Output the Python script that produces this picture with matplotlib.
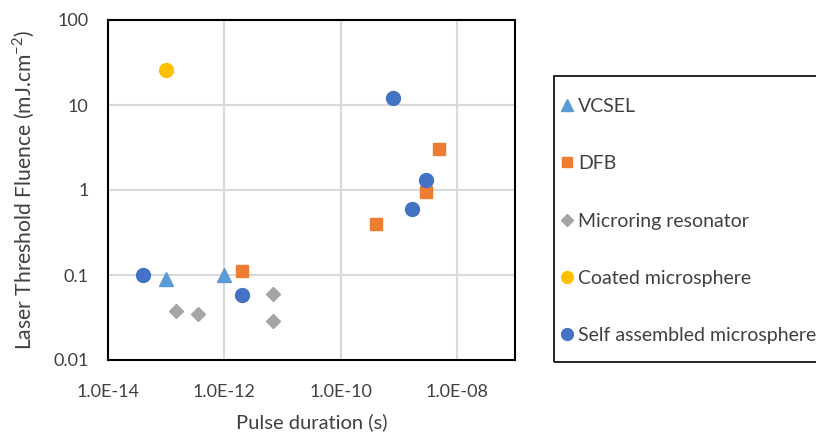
import numpy as np
import matplotlib.pyplot as plt
from matplotlib.patches import Rectangle

# pulse duration (s) and threshold fluence (mJ/cm^2) per cavity type
vcsel_t = [1e-13, 1e-12]
vcsel_f = [0.09, 0.1]

dfb_t = [2e-12, 4e-10, 3e-9, 5e-9]
dfb_f = [0.11, 0.4, 0.95, 3.0]

ring_t = [1.5e-13, 3.5e-13, 7e-12, 7e-12]
ring_f = [0.038, 0.035, 0.06, 0.029]

coated_t = [1e-13]
coated_f = [26]

self_t = [4e-14, 2e-12, 8e-10, 1.7e-9, 3e-9]
self_f = [0.1, 0.058, 12, 0.6, 1.3]

x_ticks = [1e-14, 1e-12, 1e-10, 1e-8]
x_labels = ["1.0E-14", "1.0E-12", "1.0E-10", "1.0E-08"]
y_ticks = [0.01, 0.1, 1, 10, 100]
y_labels = ["0.01", "0.1", "1", "10", "100"]

plt.rcParams['font.family'] = ['Lato', 'DejaVu Sans']
txt = '#404040'
W, H = 816, 437

fig = plt.figure(figsize=(W / 100, H / 100), dpi=100)
ax = fig.add_axes([108 / W, 1 - 360 / H, 407 / W, 340 / H])

ax.plot(vcsel_t, vcsel_f, '^', color='#5B9BD5', ms=10, ls='none', label='VCSEL', zorder=3)
ax.plot(dfb_t, dfb_f, 's', color='#ED7D31', ms=8.5, ls='none', label='DFB', zorder=3)
ax.plot(ring_t, ring_f, 'D', color='#A5A5A5', ms=7.5, ls='none', label='Microring resonator', zorder=3)
ax.plot(coated_t, coated_f, 'o', color='#FFC000', ms=10, ls='none', label='Coated microsphere', zorder=3)
ax.plot(self_t, self_f, 'o', color='#4472C4', ms=10, ls='none', label='Self assembled microsphere', zorder=3)

ax.set_xscale('log')
ax.set_yscale('log')
ax.set_xlim(1e-14, 1e-7)
ax.set_ylim(0.01, 100)
ax.set_xticks(x_ticks)
ax.set_xticklabels(x_labels)
ax.set_yticks(y_ticks)
ax.set_yticklabels(y_labels)
ax.minorticks_off()
ax.tick_params(length=0, labelsize=13, colors=txt, pad=14)
ax.tick_params(axis='x', pad=17)
ax.grid(True, color='#D9D9D9', lw=1.5)
ax.set_axisbelow(True)
for s in ax.spines.values():
    s.set_linewidth(1.5)
    s.set_color('black')

ax.set_xlabel('Pulse duration (s)', fontsize=14.5, color=txt, labelpad=10)
ax.set_ylabel('Laser Threshold Fluence (mJ.cm$^{\\mathregular{-2}}$)', fontsize=15.2, color=txt)
ax.yaxis.set_label_coords(-0.174, 0.5)

# legend box drawn on its own, running past the right edge
fig.patches.append(Rectangle((554 / W, 1 - 362 / H), 300 / W, 286 / H, transform=fig.transFigure,
                             facecolor='none', edgecolor='black', lw=1.2))
leg = fig.legend(loc='upper left', bbox_to_anchor=(557 / W, 1 - 98 / H), fontsize=14,
                 frameon=False, labelspacing=2.07, handletextpad=0.1, handlelength=1.0,
                 borderpad=0, borderaxespad=0, markerscale=0.85)
for t in leg.get_texts():
    t.set_color(txt)

fig.savefig('out.png', dpi=100)
